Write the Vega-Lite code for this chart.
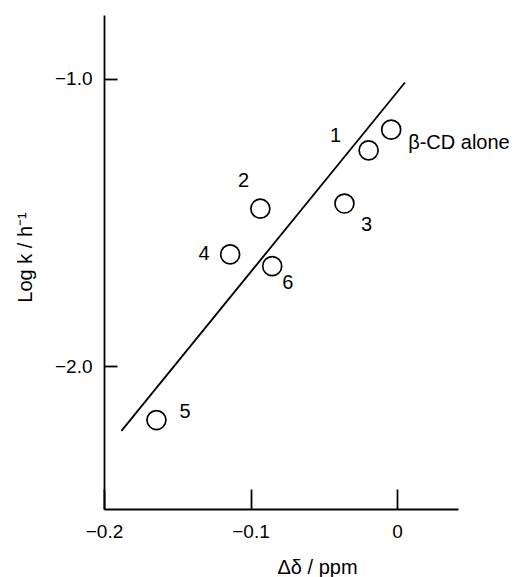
{
  "$schema": "https://vega.github.io/schema/vega-lite/v6.json",
  "width": 354,
  "height": 494,
  "autosize": "none",
  "padding": {"left": 104, "top": 15, "right": 58, "bottom": 68},
  "background": "white",
  "config": {
    "view": {"stroke": null},
    "font": "Liberation Sans",
    "axis": {
      "grid": false,
      "domainColor": "black",
      "domainWidth": 1.8,
      "tickColor": "black",
      "tickWidth": 1.8,
      "labelColor": "black",
      "labelFont": "Liberation Sans",
      "labelFontSize": 19,
      "labelFlush": false,
      "labelOverlap": false,
      "titleColor": "black",
      "titleFont": "Liberation Sans",
      "titleFontSize": 20,
      "titleFontWeight": "normal"
    }
  },
  "datasets": {
    "pts": [
      {"id": "β-CD alone", "dd": -0.004, "logk": -1.177},
      {"id": "1", "dd": -0.0194, "logk": -1.249},
      {"id": "2", "dd": -0.0933, "logk": -1.452},
      {"id": "3", "dd": -0.0359, "logk": -1.434},
      {"id": "4", "dd": -0.1139, "logk": -1.611},
      {"id": "5", "dd": -0.1642, "logk": -2.1875},
      {"id": "6", "dd": -0.0852, "logk": -1.652}
    ],
    "fit": [
      {"dd": -0.1881, "logk": -2.225},
      {"dd": 0.0054, "logk": -1.013}
    ]
  },
  "encoding": {
    "x": {
      "field": "dd",
      "type": "quantitative",
      "scale": {"domain": [-0.2, 0.0416], "nice": false, "zero": false},
      "axis": {
        "values": [-0.2, -0.1, 0],
        "format": ".1~f",
        "title": "Δδ / ppm",
        "tickSize": -20,
        "labelPadding": 33,
        "titleX": 213,
        "titleY": 58,
        "titleAlign": "center",
        "titleBaseline": "middle"
      }
    },
    "y": {
      "field": "logk",
      "type": "quantitative",
      "scale": {"domain": [-2.497, -0.778], "nice": false, "zero": false},
      "axis": {
        "values": [-1, -2],
        "format": ".1f",
        "title": "Log k / h⁻¹",
        "tickSize": -13,
        "labelPadding": 25,
        "titleX": -79,
        "titleY": 242,
        "titleAngle": -90,
        "titleAlign": "center",
        "titleBaseline": "middle"
      }
    }
  },
  "layer": [
    {
      "data": {"name": "fit"},
      "mark": {"type": "line", "color": "black", "strokeWidth": 1.8}
    },
    {
      "data": {"name": "pts"},
      "mark": {"type": "point", "shape": "circle", "filled": false, "size": 360, "color": "black", "strokeWidth": 1.7, "opacity": 1}
    },
    {
      "data": {"name": "pts"},
      "transform": [{"filter": "datum.id === 'β-CD alone'"}],
      "mark": {"type": "text", "align": "left", "baseline": "middle", "dx": 17, "dy": 13.5, "fontSize": 20, "color": "black"},
      "encoding": {"text": {"field": "id"}}
    },
    {
      "data": {"name": "pts"},
      "transform": [{"filter": "datum.id === '1'"}],
      "mark": {"type": "text", "align": "center", "baseline": "middle", "dx": -33, "dy": -14, "fontSize": 20, "color": "black"},
      "encoding": {"text": {"field": "id"}}
    },
    {
      "data": {"name": "pts"},
      "transform": [{"filter": "datum.id === '2'"}],
      "mark": {"type": "text", "align": "center", "baseline": "middle", "dx": -16.7, "dy": -27.6, "fontSize": 20, "color": "black"},
      "encoding": {"text": {"field": "id"}}
    },
    {
      "data": {"name": "pts"},
      "transform": [{"filter": "datum.id === '3'"}],
      "mark": {"type": "text", "align": "center", "baseline": "middle", "dx": 22, "dy": 21, "fontSize": 20, "color": "black"},
      "encoding": {"text": {"field": "id"}}
    },
    {
      "data": {"name": "pts"},
      "transform": [{"filter": "datum.id === '4'"}],
      "mark": {"type": "text", "align": "center", "baseline": "middle", "dx": -26, "dy": 0, "fontSize": 20, "color": "black"},
      "encoding": {"text": {"field": "id"}}
    },
    {
      "data": {"name": "pts"},
      "transform": [{"filter": "datum.id === '5'"}],
      "mark": {"type": "text", "align": "center", "baseline": "middle", "dx": 28.7, "dy": -8.3, "fontSize": 20, "color": "black"},
      "encoding": {"text": {"field": "id"}}
    },
    {
      "data": {"name": "pts"},
      "transform": [{"filter": "datum.id === '6'"}],
      "mark": {"type": "text", "align": "center", "baseline": "middle", "dx": 15.6, "dy": 16.6, "fontSize": 20, "color": "black"},
      "encoding": {"text": {"field": "id"}}
    }
  ]
}
